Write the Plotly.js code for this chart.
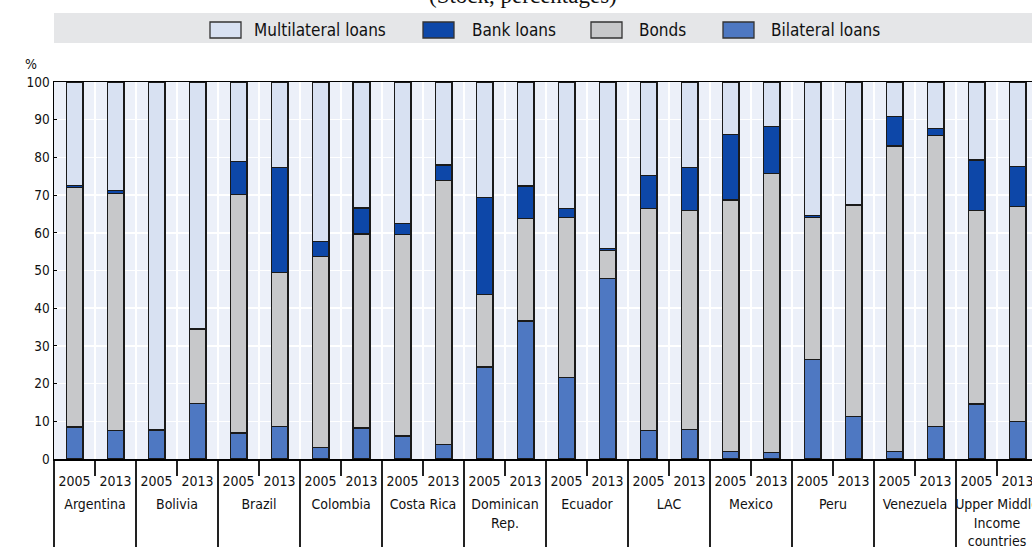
<!DOCTYPE html>
<html><head><meta charset="utf-8">
<script src="https://cdn.plot.ly/plotly-3.0.1.min.js"></script>
<style>html,body{margin:0;padding:0;overflow:hidden;background:#fff}#chart{width:1040px;height:547px}</style>
</head><body><div id="chart"></div><script>
const countries = ['Argentina','Bolivia','Brazil','Colombia','Costa Rica','Dominican<br>Rep.','Ecuador','LAC','Mexico','Peru','Venezuela','Upper Middle<br>Income<br>countries'];
const years = ['2005','2013'];
const seriesNames = ['Multilateral loans','Bank loans','Bonds','Bilateral loans'];
const bilateral    = [8.5,7.6, 7.5,14.8, 6.9,8.7, 3.1,8.2, 6.1,3.9, 24.4,36.6, 21.7,47.9, 7.6,7.8, 2.0,1.8, 26.5,11.3, 2.0,8.6, 14.6,10.0];
const bonds        = [63.6,62.8, 0.2,19.5, 63.3,40.8, 50.6,51.5, 53.4,69.9, 19.3,27.2, 42.4,7.4, 58.9,58.2, 66.7,73.9, 37.6,55.9, 81.0,77.3, 51.3,56.9];
const bank         = [0.4,0.8, 0,0.3, 8.8,27.8, 3.9,6.9, 3.0,4.2, 25.7,8.6, 2.3,0.5, 8.7,11.3, 17.3,12.4, 0.5,0.4, 7.8,1.7, 13.4,10.7];
const multilateral = [27.5,28.8, 92.3,65.4, 21.0,22.7, 42.4,33.4, 37.5,22.0, 30.6,27.6, 33.6,44.2, 24.8,22.7, 14.0,11.9, 35.4,32.4, 9.2,12.4, 20.7,22.4];

const colors = {'Multilateral loans':'#d8e1f2','Bank loans':'#0d47a8','Bonds':'#c7c8ca','Bilateral loans':'#4e78c2'};
const F = '"Liberation Sans Narrow","DejaVu Sans Condensed","Arial Narrow",sans-serif';

// symmetric tall hair spaces around each year make the label row taller, pushing the country row down
const pad = '<span style="font-size:26px">\u200a</span>';
const yearLabel = y => pad + y + pad;
const outer = [], inner = [];
countries.forEach(c => years.forEach(y => { outer.push(c); inner.push(yearLabel(y)); }));

const stackOrder = [['Bilateral loans', bilateral], ['Bonds', bonds], ['Bank loans', bank], ['Multilateral loans', multilateral]];
const traces = stackOrder.map(([name, vals]) => ({
  type:'bar', name:name, x:[outer, inner], y:vals, width:0.41,
  marker:{color:colors[name], line:{color:'#1a1a1a', width:1.2}},
  showlegend:false, hoverinfo:'name+y'
}));

const L = 54, PW = 984, T = 82, PH = 377;
const px2x = x => (x - L) / PW;
const px2y = y => (T + PH - y) / PH;

const legendBoxX = [210, 423, 591, 723];
const legendTextX = [252, 470, 637, 769];
const shapes = [{type:'rect', xref:'paper', yref:'paper', x0:0, x1:1.05, y0:px2y(43), y1:px2y(13), fillcolor:'#e5e6e8', line:{width:0}}];
const annotations = [];
seriesNames.forEach((n, i) => {
  shapes.push({type:'rect', xref:'paper', yref:'paper', x0:px2x(legendBoxX[i]), x1:px2x(legendBoxX[i]+31), y0:px2y(38), y1:px2y(22), fillcolor:colors[n], line:{color:'#333', width:1.3}});
  annotations.push({xref:'paper', yref:'paper', x:px2x(legendTextX[i]), y:px2y(30), xanchor:'left', yanchor:'middle', text:n, showarrow:false, font:{family:F, size:17, color:'#111'}});
});
annotations.push({xref:'paper', yref:'paper', x:px2x(31), y:px2y(64), xanchor:'center', yanchor:'middle', text:'%', showarrow:false, font:{family:F, size:14, color:'#111'}});
annotations.push({xref:'paper', yref:'paper', x:px2x(523), y:1, xanchor:'center', yanchor:'bottom', yshift:72, text:'(Stock, percentages)', showarrow:false, font:{family:'"Liberation Serif","DejaVu Serif",serif', size:23, color:'#111'}});

const layout = {
  width:1040, height:547,
  margin:{l:L, r:1040-L-PW, t:T, b:547-T-PH},
  paper_bgcolor:'#ffffff', plot_bgcolor:'#ecf0f9',
  barmode:'stack', showlegend:false,
  font:{family:F, color:'#111'},
  xaxis:{type:'multicategory', tickangle:0, showgrid:true, gridcolor:'#ffffff', gridwidth:1.5,
    showline:true, linecolor:'#000', linewidth:1.5, mirror:true,
    ticks:'outside', ticklen:15, tickcolor:'#222', tickwidth:1.2, ticklabelstandoff:9,
    showdividers:true, dividercolor:'#222', dividerwidth:1.2,
    tickfont:{family:F, size:14, color:'#111'}},
  yaxis:{range:[0,100], tick0:0, dtick:10, showgrid:true, gridcolor:'#ffffff', gridwidth:1.5,
    showline:true, linecolor:'#000', linewidth:1.5, zeroline:false,
    ticks:'inside', ticklen:3, tickcolor:'#000', ticklabelstandoff:0,
    tickfont:{family:F, size:13.5, color:'#111'}},
  shapes:shapes, annotations:annotations
};
Plotly.newPlot('chart', traces, layout, {displayModeBar:false, staticPlot:true});
</script></body></html>
